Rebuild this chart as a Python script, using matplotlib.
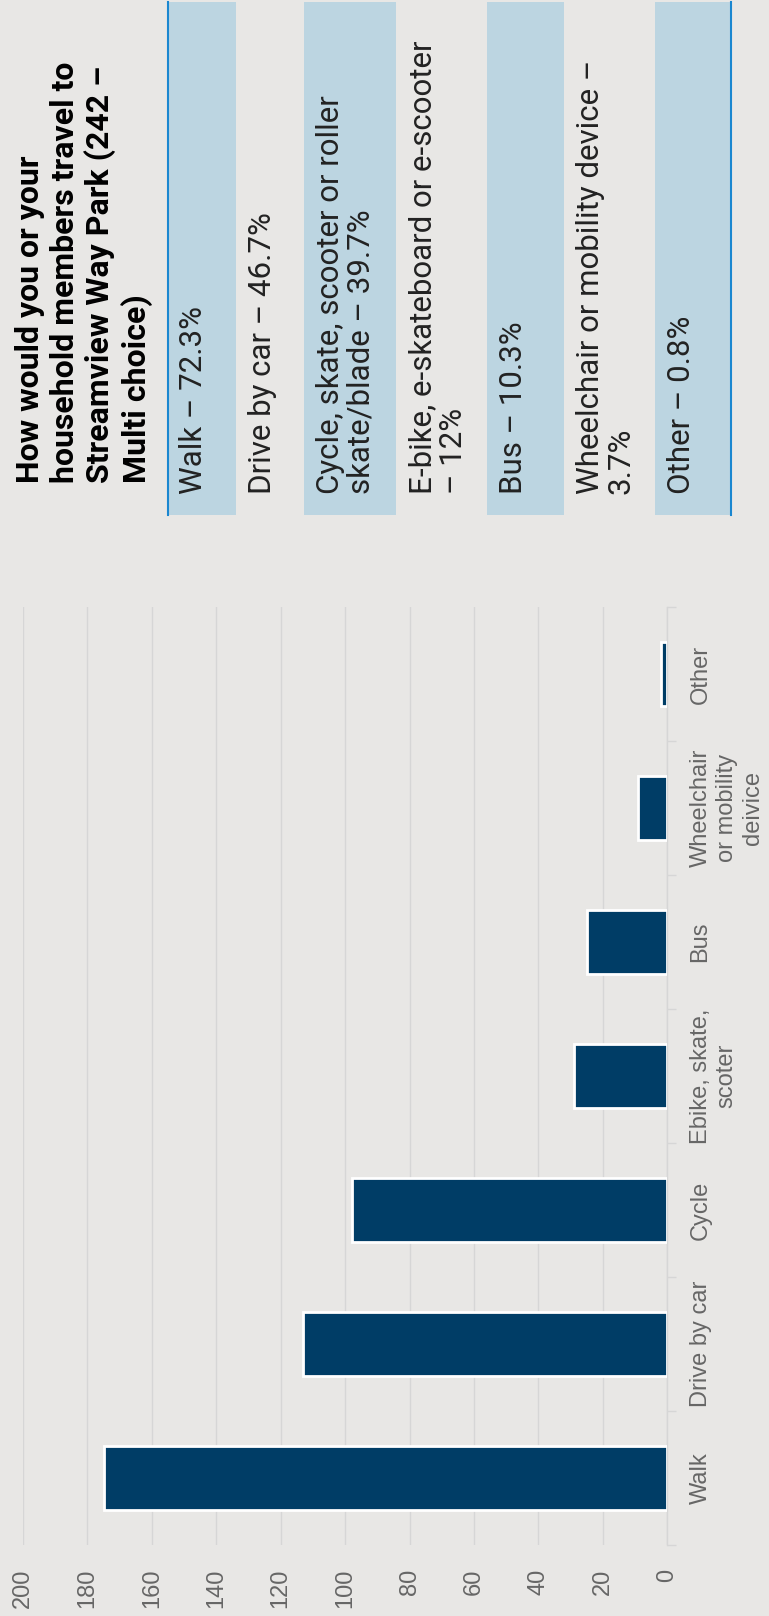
import matplotlib.pyplot as plt
from matplotlib.patches import Rectangle

# chart data
categories = ["Walk", "Drive by car", "Cycle", "Ebike, skate,\nscoter", "Bus",
              "Wheelchair\nor mobility\ndeivice", "Other"]
counts = [175, 113, 98, 29, 25, 9, 2]
value_ticks = [0, 20, 40, 60, 80, 100, 120, 140, 160, 180, 200]

title = "How would you or your\nhousehold members travel to\nStreamview Way Park (242 –\nMulti choice)"
legend_rows = ["Walk – 72.3%", "Drive by car – 46.7%",
               "Cycle, skate, scooter or roller\nskate/blade – 39.7%",
               "E-bike, e-skateboard or e-scooter\n– 12%", "Bus – 10.3%",
               "Wheelchair or mobility device –\n3.7%", "Other – 0.8%"]

BG = "#e8e7e5"
BAR = "#003d66"
BOX = "#bcd5e1"
LINE = "#1a87d0"

W, H = 769, 1616
fig = plt.figure(figsize=(W / 100, H / 100), dpi=100, facecolor=BG)


def fx(x):
    return x / W


def fy(y):
    return 1 - y / H


# bar chart (drawn sideways)
ax = fig.add_axes([fx(23), fy(1545), (667.3 - 23) / W, (1545 - 607) / H])
ax.set_facecolor(BG)
pos = list(range(len(categories)))
ax.barh(pos, counts, height=0.48, color=BAR, edgecolor="white", linewidth=2, zorder=3)
ax.set_xlim(200, 0)
ax.set_ylim(-0.5, len(categories) - 0.5)
ax.set_xticks(value_ticks)
ax.set_xticklabels([str(v) for v in value_ticks], rotation=90, family="Liberation Sans",
                   fontsize=17, color="#666666")
ax.tick_params(axis="x", length=0, pad=17)
ax.grid(axis="x", color="#d6d6d6", linewidth=1, zorder=0)
ax.yaxis.tick_right()
ax.set_yticks(pos)
ax.set_yticklabels(categories, rotation=90, family="Liberation Sans", fontsize=17,
                   color="#666666", va="center", ha="left", multialignment="center",
                   linespacing=1.25)
ax.tick_params(axis="y", which="major", length=0, pad=16)
ax.set_yticks([p - 0.5 for p in pos] + [len(pos) - 0.5], minor=True)
ax.tick_params(axis="y", which="minor", length=6.5, width=1, color="#d6d6d6", right=True, left=False)
for s in ["top", "bottom", "left"]:
    ax.spines[s].set_visible(False)
ax.spines["right"].set_color("#d6d6d6")
ax.spines["right"].set_linewidth(1)

# question panel (also sideways)
fig.text(fx(84), fy(483), title, rotation=90, ha="center", va="bottom",
         family="Roboto", fontweight="bold", fontsize=23, color="black",
         multialignment="left", linespacing=1.18)

edges = [167, 236, 304, 396, 487, 564, 655, 732]
for i, label in enumerate(legend_rows):
    x0, x1 = edges[i], edges[i + 1]
    if i % 2 == 0:
        fig.patches.append(Rectangle((fx(x0), fy(515)), (x1 - x0) / W, 513 / H,
                                     transform=fig.transFigure, facecolor=BOX,
                                     edgecolor="none", zorder=1))
    fig.text(fx(x0 + 12), fy(494), label, rotation=90, ha="left", va="bottom",
             family="Roboto", fontsize=22.5, color="#222222",
             multialignment="left", linespacing=1.08, zorder=2)

fig.add_artist(plt.Line2D([fx(168), fx(168)], [fy(515), fy(2)], color=LINE, linewidth=1.5))
fig.add_artist(plt.Line2D([fx(731), fx(731)], [fy(515), fy(2)], color=LINE, linewidth=1.5))

fig.savefig("out.png", dpi=100, facecolor=BG)
